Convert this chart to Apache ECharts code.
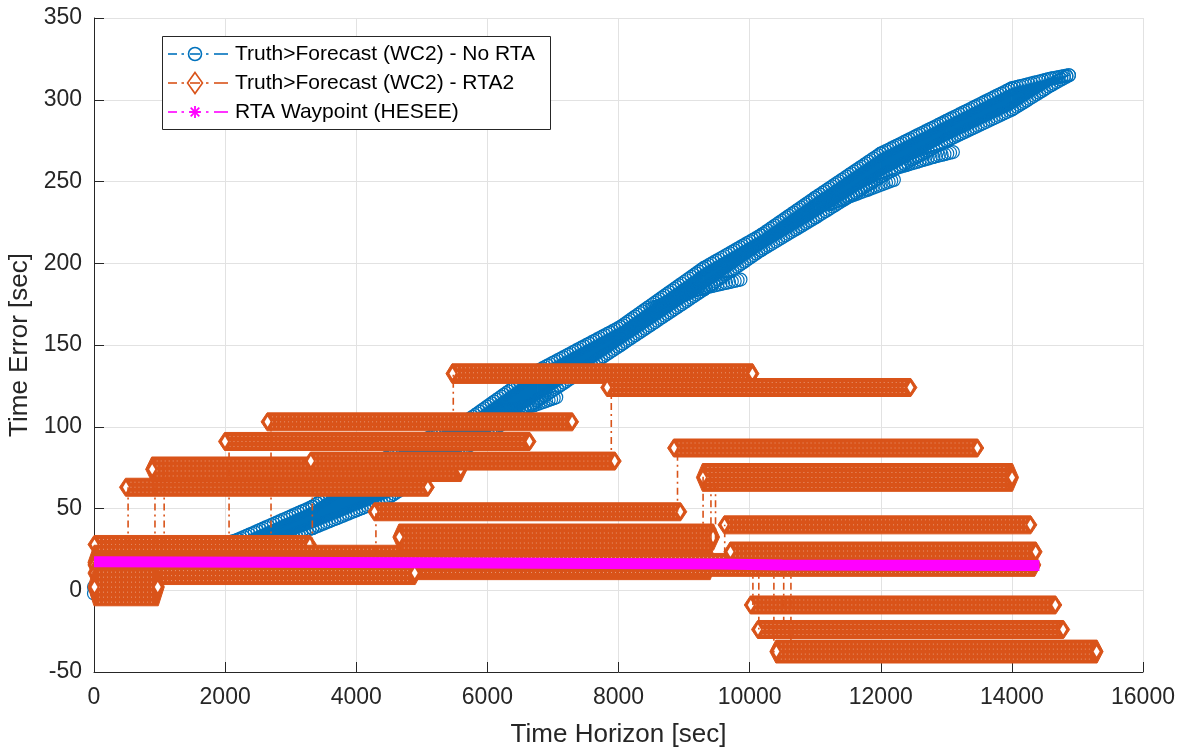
<!DOCTYPE html>
<html><head><meta charset="utf-8">
<script src="https://cdn.jsdelivr.net/npm/echarts@6/dist/echarts.min.js"></script>
<style>html,body{margin:0;padding:0;background:#fff}#c{width:1186px;height:752px}</style>
</head><body><div id="c"></div>
<script>
// ---------- data ----------
const xTickValues = [0, 2000, 4000, 6000, 8000, 10000, 12000, 14000, 16000];
const yTickValues = [-50, 0, 50, 100, 150, 200, 250, 300, 350];

// Blue band (No RTA): outer marker-centre tracks
const blueX     = [0, 1200, 2200, 3330, 4500, 5740, 6760, 8030, 9300, 10170, 11000, 12000, 13000, 14000, 14600, 14870];
const blueUpper = [2, 18, 31, 51, 82, 105, 134, 161, 197, 217, 240, 267, 287, 307, 313, 315];
const blueLower = [-2, 9, 22, 38, 57, 89, 116, 150, 184, 208, 228, 253, 275, 294, 309, 315];
const blueBranch1 = [[8500, 172], [9200, 184], [9860, 190]];
const blueBranch2 = [[11200, 236], [11800, 245], [12200, 251]];
const blueBranch3 = [[12300, 259], [12800, 265], [13100, 268]];
const blueBranch4 = [[6300, 110], [6700, 113], [7050, 118]];

// Orange bands (RTA2): start, end, highest row, lowest row
const bandStart = [0, 0, 0, 0, 0, 480, 880, 3300, 1990, 2640, 5460, 7820, 4270, 4650, 8840, 9280, 9610, 9700, 10010, 10120, 10400];
const bandEnd   = [3300, 9400, 14350, 4900, 980, 5100, 5600, 7950, 6650, 7300, 10050, 12460, 8950, 9450, 13480, 14010, 14290, 14370, 14670, 14790, 15300];
const bandHigh  = [28, 22, 17, 12, 8, 63, 76, 79, 91, 103, 133, 124, 48, 35, 87, 72, 40, 24, -9, -24, -36];
const bandLow   = [28, 12, 14, 9, -4, 63, 72, 79, 91, 103, 132, 124, 48, 30, 87, 66, 40, 23, -9, -24, -39];

// Orange dash-dot jumps between bands
const connX    = [520, 930, 1070, 2060, 2700, 3330, 4300, 5480, 7890, 8900, 9290, 9410, 9480, 9620, 10050, 10140, 10370, 10520, 10630];
const connFrom = [28, 28, 28, 28, 28, 28, 22, 103, 79, 48, 34, 30, 30, 22, 15, 15, 15, 15, 15];
const connTo   = [63, 72, 75, 91, 103, 63, 48, 133, 124, 87, 70, 70, 66, 40, -9, -24, -38, -24, -38];

// Magenta RTA waypoint line
const magentaX = [0, 5000, 9500, 10500, 14420];
const magentaY = [17.5, 16.8, 16, 15.4, 15.2];

// ---------- styling ----------
const ORANGE = '#D95319', BLUE = '#0072BD', MAGENTA = '#FF00FF';
const FONT = '"Liberation Sans", Arial, Helvetica, sans-serif';
const TXT = '#262626';

const blueSegs = blueX.slice(0, -1).map((x, i) => [x, blueUpper[i], blueLower[i], blueX[i + 1], blueUpper[i + 1], blueLower[i + 1]]);
function trackSegs(pts) { const s = []; for (let i = 0; i < pts.length - 1; i++) s.push([pts[i][0], pts[i][1], pts[i + 1][0], pts[i + 1][1]]); return s; }
const upperPts = blueX.map((x, i) => [x, blueUpper[i]]);
const lowerPts = blueX.map((x, i) => [x, blueLower[i]]);
const edgeSegs = [].concat(trackSegs(upperPts), trackSegs(lowerPts), trackSegs(blueBranch1), trackSegs(blueBranch2), trackSegs(blueBranch3), trackSegs(blueBranch4));
const bandData = bandStart.map((s, i) => [s, bandEnd[i], bandHigh[i], bandLow[i]]);
const connData = connX.map((x, i) => [x, connFrom[i], connTo[i]]);
const magData = magentaX.map((x, i) => [x, magentaY[i]]);

function renderBlueFill(params, api) {
  const a = api.coord([api.value(0), api.value(1)]);
  const b = api.coord([api.value(3), api.value(4)]);
  const c = api.coord([api.value(3), api.value(5)]);
  const d = api.coord([api.value(0), api.value(2)]);
  return { type: 'polygon', shape: { points: [a, b, c, d] }, style: { fill: BLUE, stroke: BLUE, lineWidth: 1 } };
}
function renderBlueEdge(params, api) {
  const p = api.coord([api.value(0), api.value(1)]);
  const q = api.coord([api.value(2), api.value(3)]);
  const L = Math.hypot(q[0] - p[0], q[1] - p[1]);
  const n = Math.max(1, Math.ceil(L / 3));
  const ch = [];
  for (let k = 0; k <= n; k++) {
    const t = k / n;
    ch.push({ type: 'circle', shape: { cx: p[0] + (q[0] - p[0]) * t, cy: p[1] + (q[1] - p[1]) * t, r: 6.5 },
      style: { fill: null, stroke: BLUE, lineWidth: 1.2 } });
  }
  return { type: 'group', children: ch };
}
function renderBand(params, api) {
  const a = api.coord([api.value(0), api.value(2)]);
  const b = api.coord([api.value(1), api.value(3)]);
  const hh = 9, hw = 6;
  const top = a[1] - hh, bot = b[1] + hh, mid = (a[1] + b[1]) / 2;
  const ch = [];
  ch.push({ type: 'polygon', shape: { points: [[a[0] - hw, mid], [a[0], top], [b[0], top], [b[0] + hw, mid], [b[0], bot], [a[0], bot]] },
    style: { fill: ORANGE, stroke: ORANGE, lineWidth: 1 } });
  for (let y = top + 4; y < bot - 2; y += 5) {
    ch.push({ type: 'line', shape: { x1: a[0] + 5, y1: y, x2: b[0] - 5, y2: y },
      style: { stroke: 'rgba(255,255,255,0.4)', lineWidth: 1, lineDash: [1, 3] } });
  }
  ch.push({ type: 'polygon', shape: { points: [[a[0] - 2.5, mid], [a[0] + 0.5, mid - 5], [a[0] + 3.5, mid], [a[0] + 0.5, mid + 5]] }, style: { fill: '#fff' } });
  ch.push({ type: 'polygon', shape: { points: [[b[0] + 2.5, mid], [b[0] - 0.5, mid - 5], [b[0] - 3.5, mid], [b[0] - 0.5, mid + 5]] }, style: { fill: '#fff' } });
  return { type: 'group', children: ch };
}
function renderConn(params, api) {
  const a = api.coord([api.value(0), api.value(1)]);
  const b = api.coord([api.value(0), api.value(2)]);
  return { type: 'line', shape: { x1: a[0], y1: a[1], x2: b[0], y2: b[1] },
    style: { stroke: ORANGE, lineWidth: 1.6, lineDash: [7, 4, 2, 4] } };
}

// legend (graphic)
const legendRows = [
  { y: 54, color: BLUE, sym: 'circle', text: 'Truth>Forecast (WC2) - No RTA' },
  { y: 83, color: ORANGE, sym: 'diamond', text: 'Truth>Forecast (WC2) - RTA2' },
  { y: 112, color: MAGENTA, sym: 'star', text: 'RTA Waypoint (HESEE)' }
];
const legendEls = [{ type: 'rect', shape: { x: 162.5, y: 36.5, width: 388, height: 93 }, style: { fill: '#fff', stroke: '#262626', lineWidth: 1 }, z: 100 }];
legendRows.forEach(r => {
  [[168, 177], [181.5, 184], [206, 208.5], [214, 228]].forEach(s => legendEls.push({ type: 'line', shape: { x1: s[0], y1: r.y, x2: s[1], y2: r.y }, style: { stroke: r.color, lineWidth: 1.6 }, z: 101 }));
  legendEls.push({ type: 'line', shape: { x1: 190, y1: r.y, x2: 200, y2: r.y }, style: { stroke: r.color, lineWidth: 1.6 }, z: 101 });
  if (r.sym === 'circle') legendEls.push({ type: 'circle', shape: { cx: 195, cy: r.y, r: 6.5 }, style: { fill: null, stroke: r.color, lineWidth: 1.6 }, z: 102 });
  if (r.sym === 'diamond') legendEls.push({ type: 'polygon', shape: { points: [[195, r.y - 10.5], [202.5, r.y], [195, r.y + 10.5], [187.5, r.y]] }, style: { fill: null, stroke: r.color, lineWidth: 1.6 }, z: 102 });
  if (r.sym === 'star') {
    const s = 6, d = 4.3;
    [[-s, 0, s, 0], [0, -s, 0, s], [-d, -d, d, d], [-d, d, d, -d]].forEach(l => legendEls.push({ type: 'line', shape: { x1: 195 + l[0], y1: r.y + l[1], x2: 195 + l[2], y2: r.y + l[3] }, style: { stroke: r.color, lineWidth: 1.8 }, z: 102 }));
  }
  legendEls.push({ type: 'text', x: 235, y: r.y, style: { text: r.text, fontSize: 21, fontFamily: FONT, fill: '#000', verticalAlign: 'middle', align: 'left' }, z: 102 });
});

const chart = echarts.init(document.getElementById('c'), null, { renderer: 'canvas' });
chart.setOption({
  animation: false,
  backgroundColor: '#fff',
  grid: { left: 94, right: 43, top: 18, bottom: 80, containLabel: false, outerBoundsMode: 'none' },
  xAxis: {
    type: 'value', min: xTickValues[0], max: xTickValues[xTickValues.length - 1], interval: xTickValues[1] - xTickValues[0],
    name: 'Time Horizon [sec]', nameLocation: 'middle', nameGap: 50,
    nameTextStyle: { fontSize: 26, color: TXT, fontFamily: FONT },
    axisLine: { onZero: false, lineStyle: { color: TXT, width: 1 } },
    axisTick: { inside: true, length: 10, lineStyle: { color: TXT } },
    axisLabel: { fontSize: 23, color: TXT, fontFamily: FONT, margin: 14, formatter: v => String(v) },
    splitLine: { show: true, lineStyle: { color: '#E2E2E2', width: 1 } }
  },
  yAxis: {
    type: 'value', min: yTickValues[0], max: yTickValues[yTickValues.length - 1], interval: yTickValues[1] - yTickValues[0],
    name: 'Time Error [sec]', nameLocation: 'middle', nameGap: 54,
    nameTextStyle: { fontSize: 26, color: TXT, fontFamily: FONT },
    axisLine: { onZero: false, lineStyle: { color: TXT, width: 1 } },
    axisTick: { inside: true, length: 10, lineStyle: { color: TXT } },
    axisLabel: { fontSize: 23, color: TXT, fontFamily: FONT, margin: 12, formatter: v => String(v) },
    splitLine: { show: true, lineStyle: { color: '#E2E2E2', width: 1 } }
  },
  graphic: legendEls,
  series: [
    { type: 'custom', name: 'blueFill', data: blueSegs, renderItem: renderBlueFill, encode: { x: [0, 3], y: [1, 2, 4, 5] }, silent: true },
    { type: 'custom', name: 'blueEdge', data: edgeSegs, renderItem: renderBlueEdge, encode: { x: [0, 2], y: [1, 3] }, silent: true },
    { type: 'custom', name: 'bands', data: bandData, renderItem: renderBand, encode: { x: [0, 1], y: [2, 3] }, silent: true },
    { type: 'custom', name: 'conn', data: connData, renderItem: renderConn, encode: { x: 0, y: [1, 2] }, silent: true },
    { type: 'line', name: 'magenta', data: magData, showSymbol: false, symbol: 'none', lineStyle: { color: MAGENTA, width: 11 }, silent: true }
  ]
});
</script></body></html>
